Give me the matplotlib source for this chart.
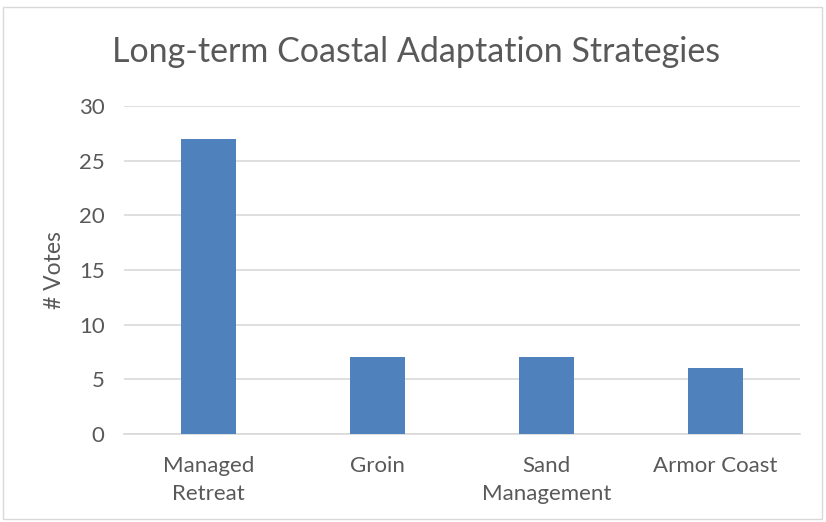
import matplotlib
matplotlib.use("Agg")
import matplotlib.pyplot as plt
from matplotlib.patches import Rectangle

plt.rcParams['font.family'] = ['Lato', 'DejaVu Sans']

categories = ["Managed\nRetreat", "Groin", "Sand\nManagement", "Armor Coast"]
votes = [27, 7, 7, 6]
yticks = [0, 5, 10, 15, 20, 25, 30]

text_color = "#595959"
bar_color = "#4F81BD"
grid_color = "#D9D9D9"

fig = plt.figure(figsize=(8.26, 5.22), dpi=100)
fig.patches.append(Rectangle((3 / 826, 3 / 522), 819 / 826, 512 / 522,
                             transform=fig.transFigure, fill=False,
                             edgecolor="#D9D9D9", linewidth=1.0))

ax = fig.add_axes([124 / 826, 1 - 434 / 522, 676 / 826, 328 / 522])
x = list(range(len(categories)))
ax.bar(x, votes, width=0.33, color=bar_color, zorder=3)

ax.set_xlim(-0.5, len(categories) - 0.5)
ax.set_ylim(0, 30)
ax.set_yticks(yticks)
ax.set_yticklabels([str(t) for t in yticks])
ax.set_xticks(x)
ax.set_xticklabels(categories, linespacing=1.5)
ax.tick_params(axis="both", length=0, labelsize=16, labelcolor=text_color)
ax.tick_params(axis="y", pad=14)
ax.tick_params(axis="x", pad=16)
ax.grid(axis="y", color=grid_color, linewidth=1.2, zorder=0)
for s in ["top", "right", "left"]:
    ax.spines[s].set_visible(False)
ax.spines["bottom"].set_color(grid_color)
ax.spines["bottom"].set_linewidth(1.2)

ax.set_ylabel("# Votes", fontsize=16.5, color=text_color, labelpad=10)
fig.text(416 / 826, 1 - 52 / 522, "Long-term Coastal Adaptation Strategies",
         ha="center", va="center", fontsize=24.5, color=text_color)

fig.savefig("out.png", dpi=100)
